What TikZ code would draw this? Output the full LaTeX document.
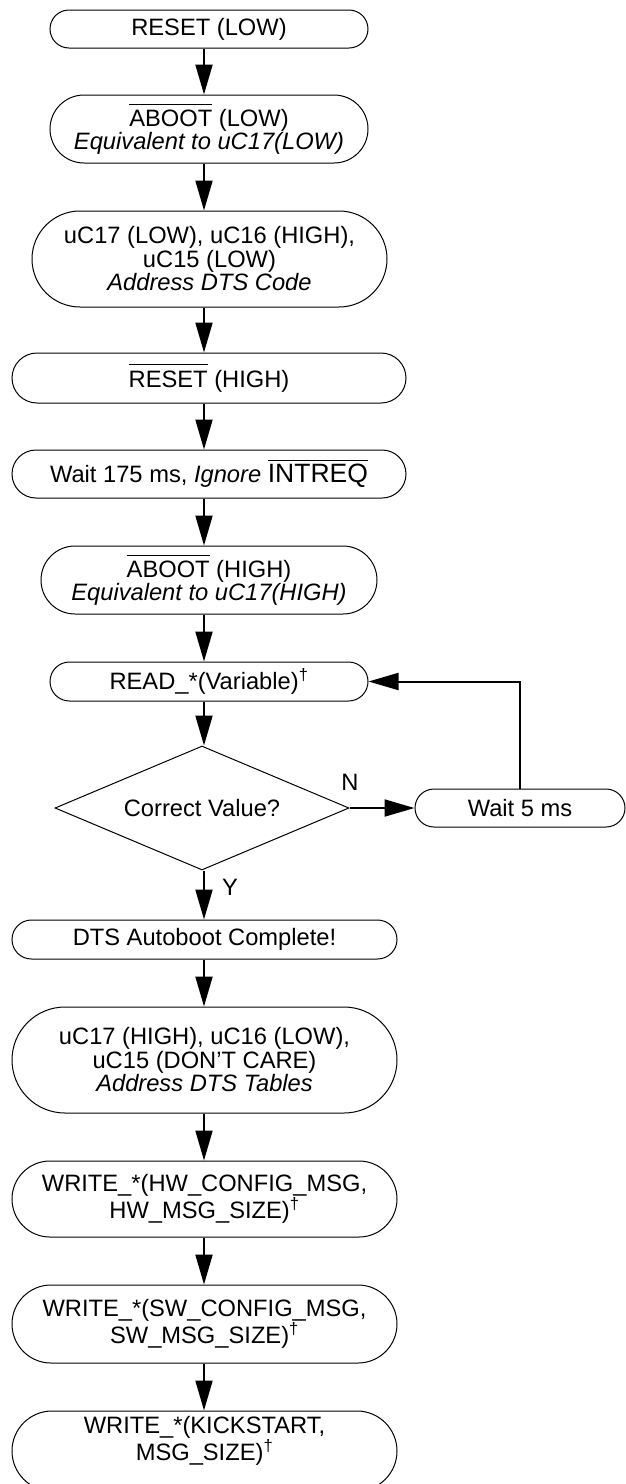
\documentclass[tikz,border=0pt]{standalone}
\usepackage{fontspec}
\setmainfont{Liberation Sans}
\usetikzlibrary{shapes.geometric,arrows.meta}
\newcommand\ovl[2][5pt]{\leavevmode\vbox{\hrule height 1pt\kern #1\hbox{#2}}}
\begin{document}
\begin{tikzpicture}[x=1pt,y=-1pt,
  every node/.style={font=\fontsize{23.7}{23.5}\selectfont},
  stad/.style 2 args={draw, line width=1pt, rectangle, inner sep=0pt, align=center,
    minimum width=#1pt, minimum height=#2pt, rounded corners=#2pt/2},
  dec/.style={draw, line width=1pt, diamond, inner sep=0pt, aspect=2.37},
  arr/.style={line width=2pt, -{Triangle[length=30pt,width=17pt]}}]
\useasboundingbox (0,0) rectangle (626,1484);
\coordinate (ax) at (204,0);
\node[stad={318}{38}] (n1) at (209,29) {RESET (LOW)};
\node[stad={318}{68}] (n2) at (209,129) {\ovl{ABOOT} (LOW)\\ \textit{Equivalent to uC17(LOW)}};
\node[stad={355}{96}] (n3) at (209.5,259) {uC17 (LOW), uC16 (HIGH),\\ uC15 (LOW)\\ \textit{Address DTS Code}};
\node[stad={394}{50}] (n4) at (209,378) {\ovl[6pt]{RESET} (HIGH)};
\node[stad={394}{48}] (n5) at (209,474) {Wait 175 ms, \textit{Ignore} \ovl[3pt]{\fontsize{26.5}{26.5}\selectfont INTREQ}};
\node[stad={336}{68}] (n6) at (209,580) {\ovl{ABOOT} (HIGH)\\ \textit{Equivalent to uC17(HIGH)}};
\node[stad={318}{39}] (n7) at (209,681.5) {READ\_*(Variable)\textsuperscript{\textdagger}};
\node[dec, minimum width=294pt, minimum height=124pt] (dia) at (202,808) {Correct Value?};
\node[stad={210}{38}] (w5) at (520,808) {Wait 5 ms};
\node[stad={385}{39}] (n8) at (204.5,939.5) {DTS Autoboot Complete!};
\node[stad={385}{106}] (n9) at (204.5,1060) {uC17 (HIGH), uC16 (LOW),\\ uC15 (DON’T CARE)\\ \textit{Address DTS Tables}};
\node[stad={385}{76}] (n10) at (204.5,1199) {WRITE\_*(HW\_CONFIG\_MSG,\\ HW\_MSG\_SIZE)\textsuperscript{\textdagger}};
\node[stad={385}{78}] (n11) at (204.5,1324) {WRITE\_*(SW\_CONFIG\_MSG,\\ SW\_MSG\_SIZE)\textsuperscript{\textdagger}};
\node[stad={385}{80}] (n12) at (204.5,1451) {};
\node[align=center] (n12t) at (204.5,1441) {WRITE\_*(KICKSTART,\\ MSG\_SIZE)\textsuperscript{\textdagger}};
\node (lN) at (350,782) {N};
\node (lY) at (230,887) {Y};
\draw[arr] (n1.south -| ax) -- (n2.north -| ax);
\draw[arr] (n2.south -| ax) -- (n3.north -| ax);
\draw[arr] (n3.south -| ax) -- (n4.north -| ax);
\draw[arr] (n4.south -| ax) -- (n5.north -| ax);
\draw[arr] (n5.south -| ax) -- (n6.north -| ax);
\draw[arr] (n6.south -| ax) -- (n7.north -| ax);
\draw[arr] (n7.south -| ax) -- (dia.north -| ax);
\draw[arr] (dia.east) -- (w5.west);
\draw[arr] (w5.north) |- (n7.east);
\draw[arr] (dia.south -| ax) -- (n8.north -| ax);
\draw[arr] (n8.south -| ax) -- (n9.north -| ax);
\draw[arr] (n9.south -| ax) -- (n10.north -| ax);
\draw[arr] (n10.south -| ax) -- (n11.north -| ax);
\draw[arr] (n11.south -| ax) -- (n12.north -| ax);
\end{tikzpicture}
\end{document}
